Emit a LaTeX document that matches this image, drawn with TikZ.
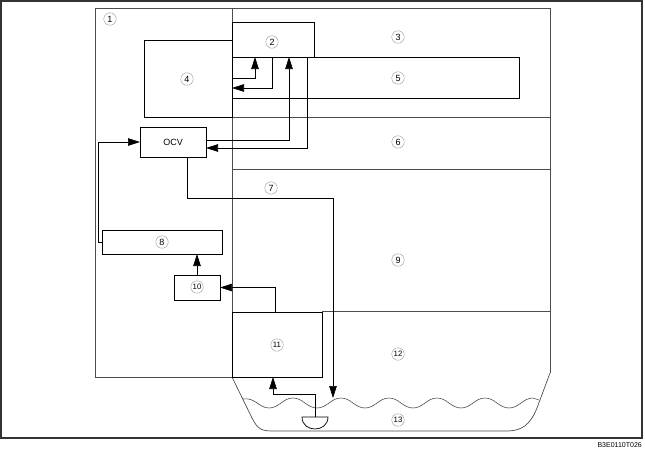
\documentclass[tikz,border=0pt]{standalone}
\usepackage{fontspec}
\setmainfont{Liberation Sans}
\usetikzlibrary{arrows.meta}
\begin{document}
\begin{tikzpicture}[x=1pt,y=-1pt,
  line join=miter,
  frame/.style={draw=black!80, line width=1.1pt},
  divider/.style={draw=black!70, line width=0.7pt},
  blk/.style={draw=black, line width=0.7pt, fill=white, inner sep=0pt, outer sep=0pt},
  arr/.style={draw=black, line width=0.7pt, -{Triangle[length=12pt,width=7.5pt]}},
  wire/.style={draw=black, line width=0.7pt},
  num/.style={circle, draw=black!40, line width=0.4pt, inner sep=0pt, minimum size=12.5pt,
              font=\fontsize{9}{9}\selectfont},
  numtwo/.style={num, font=\fontsize{7.8}{7.8}\selectfont}
]
\useasboundingbox (0,0) rectangle (645,458);

% outer frame
\draw[frame] (1,1) rectangle (642,438);

% housing outline and internal dividers
\draw[divider] (95,8) -- (550,8);
\draw[divider] (95,8) -- (95,377) -- (232,377);
\draw[divider] (232,8) -- (232,377);
\draw[divider] (550,8) -- (550,373);
\draw[divider] (232,117) -- (550,117);
\draw[divider] (232,169) -- (550,169);
\draw[divider] (322,311) -- (550,311);

% oil pan
\draw[divider] (232,377) -- (252,418) .. controls (258,430) and (262,431) .. (274,431)
  -- (506,431) .. controls (522,431) and (530,425) .. (537,408) -- (550,373);

% oil surface
\draw[draw=black!70, line width=0.6pt]
  (243,399) .. controls (255,397) and (259,408) .. (269,408)
  foreach \k in {0,...,4} {
    .. controls ({279+48*\k},408) and ({283+48*\k},398) .. ({293+48*\k},398)
    .. controls ({303+48*\k},398) and ({307+48*\k},408) .. ({317+48*\k},408)
  }
  .. controls (519,408) and (523,398) .. (533,398) -- (539,400);

% component blocks
\node[blk, minimum width=88pt, minimum height=77pt] (b4) at (188,78.5) {};
\node[blk, minimum width=287pt, minimum height=41pt] (b5) at (375.5,77.5) {};
\node[blk, minimum width=82pt, minimum height=35pt] (b2) at (273,39.5) {};
\node[blk, minimum width=66pt, minimum height=30pt, font=\fontsize{9}{9}\selectfont] (ocv) at (173,142) {OCV};
\node[blk, minimum width=120pt, minimum height=24pt] (b8) at (162,242) {};
\node[blk, minimum width=46pt, minimum height=25pt] (b10) at (197,287.5) {};
\node[blk, minimum width=90pt, minimum height=65pt] (b11) at (277,344.5) {};

% oil strainer
\coordinate (str) at (315,417);
\draw[wire, fill=white] (302,417) .. controls (302,433) and (328,433) .. (328,417) -- cycle;

% oil flow connectors
\coordinate (pan) at (333,398);
\draw[arr] (b4.east) -| ([xshift=-18pt]b2.south);
\draw[arr] ([xshift=-1pt]b2.south) |- ([yshift=-9.5pt]b4.east);
\draw[arr] ([yshift=2pt]ocv.east) -| ([xshift=16pt]b2.south);
\draw[arr] ([xshift=34pt]b2.south) |- ([yshift=-6pt]ocv.east);
\draw[arr] ([xshift=14pt]ocv.south) -- ++(0,41) -| (pan);
\draw[arr] (b8.west) -- ++(-4,0) |- (ocv.west);
\draw[arr] (b10.north) -- (b10.north |- b8.south);
\draw[arr] ([xshift=-2pt]b11.north) |- (b10.east);
\draw[arr] (str) -- ++(0,-23) -| ([xshift=-4pt]b11.south);

% reference numbers
\node[num] (n1) at (110,19) {1};
\node[num] (n2) at (272,42) {2};
\node[num] (n3) at (398,37) {3};
\node[num] (n4) at (187,79) {4};
\node[num] (n5) at (398,78) {5};
\node[num] (n6) at (398,142) {6};
\node[num] (n7) at (271,188) {7};
\node[num] (n8) at (162,242) {8};
\node[num] (n9) at (398,260) {9};
\node[numtwo] (n10) at (197,287) {10};
\node[numtwo] (n11) at (277,345) {11};
\node[numtwo] (n12) at (398,354) {12};
\node[numtwo] (n13) at (398,420) {13};

% figure code
\node[anchor=east, inner sep=0pt, font=\fontsize{7}{7}\selectfont] (code) at (642,445) {B3E0110T026};
\end{tikzpicture}
\end{document}
